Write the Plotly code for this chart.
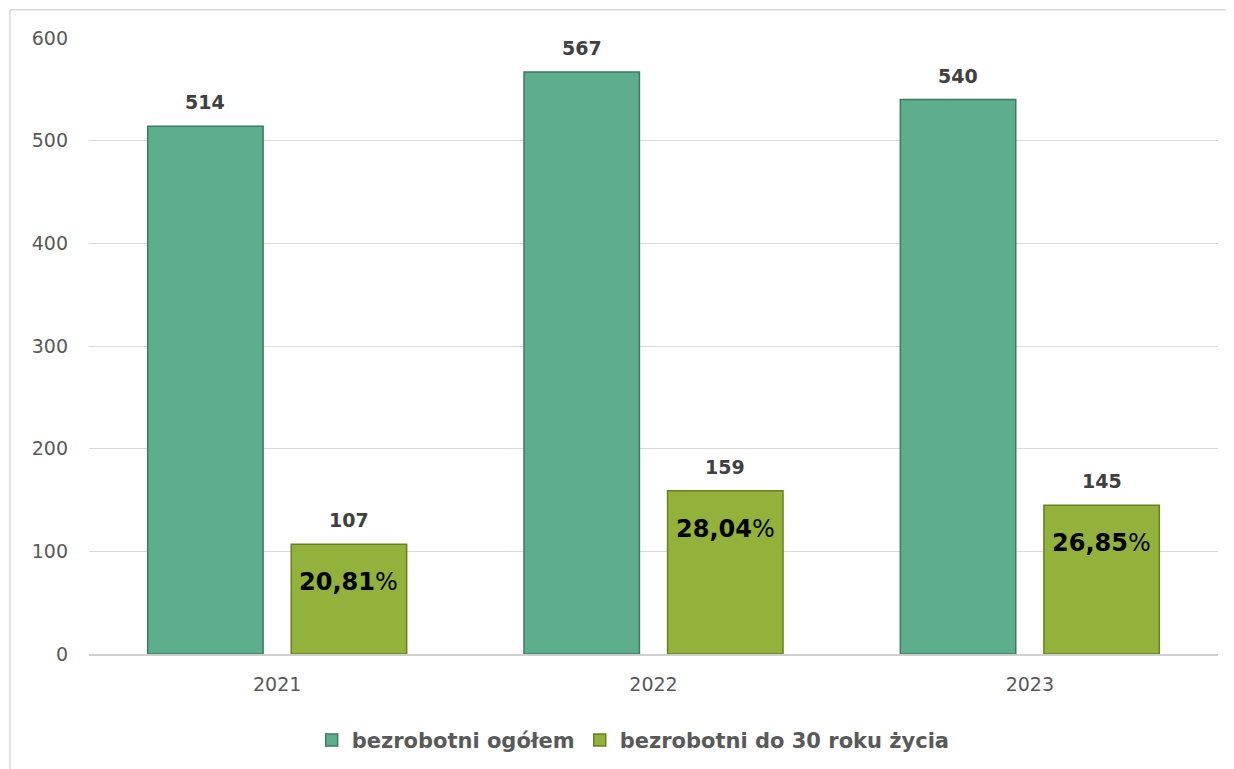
import plotly.graph_objects as go

years = ["2021", "2022", "2023"]
total = [514, 567, 540]
under30 = [107, 159, 145]
share_labels = ["20,81", "28,04", "26,85"]
series_names = ["bezrobotni ogółem", "bezrobotni do 30 roku życia"]
y_ticks = [0, 100, 200, 300, 400, 500, 600]

FONT = "DejaVu Sans"
TEAL = "#5cae8c"
TEAL_LINE = "#3e7a61"
OLIVE = "#93b23b"
OLIVE_LINE = "#66801f"

fig = go.Figure()
fig.add_trace(go.Bar(
    x=years, y=total, name=f"<b>{series_names[0]}</b>",
    marker=dict(color=TEAL, line=dict(color=TEAL_LINE, width=1.5)),
))
fig.add_trace(go.Bar(
    x=years, y=under30, name=f"<b>{series_names[1]}</b>",
    marker=dict(color=OLIVE, line=dict(color=OLIVE_LINE, width=1.5)),
))

BAR_OFF = 71.7
annotations = []
for i, v in enumerate(total):
    annotations.append(dict(x=i, y=v, xref="x", yref="y", text=f"<b>{v}</b>",
                            showarrow=False, xshift=-BAR_OFF, yanchor="bottom", yshift=11,
                            font=dict(family=FONT, size=19, color="#404040")))
for i, (v, s) in enumerate(zip(under30, share_labels)):
    annotations.append(dict(x=i, y=v, xref="x", yref="y", text=f"<b>{v}</b>",
                            showarrow=False, xshift=BAR_OFF, yanchor="bottom", yshift=11,
                            font=dict(family=FONT, size=19, color="#404040")))
    annotations.append(dict(x=i, y=v, xref="x", yref="y", text=f"<b>{s}</b>%",
                            showarrow=False, xshift=BAR_OFF, yanchor="middle", yshift=-38,
                            font=dict(family=FONT, size=24, color="#000000")))

fig.update_layout(
    width=1234, height=769,
    margin=dict(l=81, r=24, t=30, b=123),
    paper_bgcolor="white", plot_bgcolor="white",
    barmode="group", bargap=0.237, bargroupgap=0.196,
    font=dict(family=FONT, color="#595959"),
    showlegend=True,
    legend=dict(orientation="h", x=0.482, xanchor="center", y=-0.14, yanchor="middle",
                font=dict(family=FONT, size=21, color="#595959"),
                traceorder="normal"),
    annotations=annotations,
    shapes=[
        dict(type="line", xref="paper", yref="paper", x0=-0.070, x1=-0.070, y0=1.046, y1=-0.25,
             line=dict(color="#d9d9d9", width=1.5)),
        dict(type="line", xref="paper", yref="paper", x0=-0.070, x1=1.05, y0=1.046, y1=1.046,
             line=dict(color="#d9d9d9", width=1.5)),
    ],
)
fig.update_xaxes(type="category", range=[-0.5, 2.5], showgrid=False, showline=True,
                 linecolor="#d0d0d0", linewidth=1.5,
                 ticks="", tickfont=dict(family=FONT, size=19, color="#595959"),
                 ticklabelstandoff=12)
fig.update_yaxes(range=[0, 600], tickvals=y_ticks, showgrid=True, gridcolor="#d9d9d9", gridwidth=1.2,
                 zeroline=False, showline=False, ticks="",
                 tickfont=dict(family=FONT, size=19, color="#595959"), ticklabelstandoff=20)

fig.write_html("out.html")
